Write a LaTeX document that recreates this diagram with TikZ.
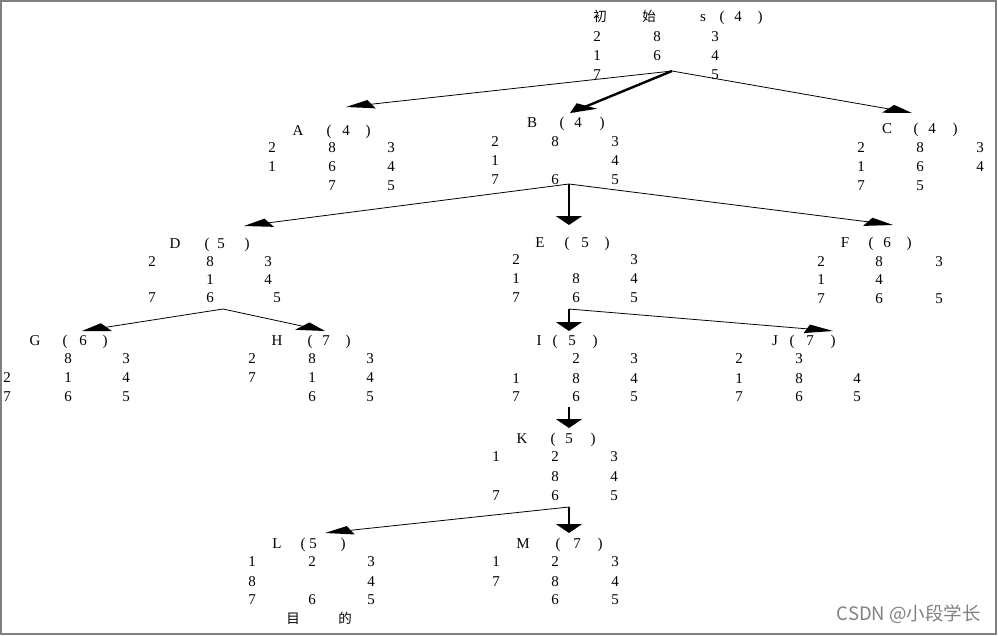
\documentclass[tikz,border=0pt]{standalone}
\usepackage{fontspec}
\setmainfont{Liberation Serif}
\newfontfamily\cjk{Noto Sans CJK SC}
\usetikzlibrary{calc}
\newcommand\puzzle[8]{%
  \foreach \v [count=\k from 0] in {#8}{%
    \ifnum\v=0\else
      \pgfmathtruncatemacro\rr{div(\k,3)}%
      \pgfmathtruncatemacro\cc{mod(\k,3)}%
      \pgfmathsetmacro\xx{{#2,#3,#4}[\cc]}%
      \pgfmathsetmacro\yy{{#5,#6,#7}[\rr]}%
      \node[lab] (#1-\k) at (\xx,\yy) {\v};
    \fi
  }%
}
\newcommand\ttl[8]{%
  \node[lab,anchor=base] (#1-n) at (#2,#3) {#4};
  \node[lab,anchor=base] (#1-l) at (#5,#3) {(};
  \node[lab,anchor=base] (#1-v) at (#6,#3) {#7};
  \node[lab,anchor=base] (#1-r) at (#8,#3) {)};
}
\newcommand\arr[3]{%
  \draw[#1] (#2) -- (#3);
  \path (#2); \pgfgetlastxy{\ax}{\ay}
  \path (#3); \pgfgetlastxy{\bx}{\by}
  \pgfmathsetmacro\ang{atan2(\by-\ay,(\bx-\ax)/3)}
  \fill[shift={(#3)}, xscale=3, rotate=\ang] (0,0) -- (-9,4.4) -- (-9,-4.4) -- cycle;
}
\begin{document}
\begin{tikzpicture}[x=1pt,y=-1pt,
  lab/.style={inner sep=0pt, font=\fontsize{15}{15}\selectfont},
  thinl/.style={line width=0.8pt, shorten >=5pt},
  thickl/.style={line width=2.4pt, shorten >=4pt},
  frame/.style={draw=gray, line width=2pt}]
\useasboundingbox (0,0) rectangle (998,635);
\draw[frame] (1,1) rectangle (996,633.5);

% root
\node[lab,anchor=base] (s-c1) at (600,21) {\cjk\fontsize{13.5}{13.5}\selectfont 初};
\node[lab,anchor=base] (s-c2) at (649,21) {\cjk\fontsize{13.5}{13.5}\selectfont 始};
\ttl{s}{703}{21}{s}{722}{738}{4}{760}
\puzzle{s}{597}{657}{715}{37}{56}{75}{2,8,3,1,6,4,7,0,5}

\ttl{A}{298}{135}{A}{329}{346}{4}{368}
\puzzle{A}{272}{332}{391}{148}{167}{186}{2,8,3,1,6,4,0,7,5}
\ttl{B}{532}{127}{B}{562}{578}{4}{602}
\puzzle{B}{495}{555}{615}{142}{161}{180}{2,8,3,1,0,4,7,6,5}
\ttl{C}{887}{133}{C}{916}{932}{4}{955}
\puzzle{C}{861}{920}{980}{148}{167}{186}{2,8,3,1,6,4,7,5,0}

\ttl{D}{175}{248}{D}{207}{221}{5}{247}
\puzzle{D}{152}{210}{268}{262}{280}{298}{2,8,3,0,1,4,7,6,0}
\node[lab] (D-8) at (277,298) {5};
\ttl{E}{540}{247}{E}{567}{585}{5}{607}
\puzzle{E}{516}{576}{634}{260}{279}{298}{2,0,3,1,8,4,7,6,5}
\ttl{F}{845}{247}{F}{871}{887}{6}{909}
\puzzle{F}{821}{879}{939}{262}{280}{299}{2,8,3,1,4,0,7,6,5}

\ttl{G}{35}{345}{G}{65}{83}{6}{105}
\puzzle{G}{7}{68}{126}{359}{378}{397}{0,8,3,2,1,4,7,6,5}
\ttl{H}{277}{345}{H}{310}{326}{7}{348}
\puzzle{H}{252}{312}{370}{359}{378}{397}{2,8,3,7,1,4,0,6,5}
\ttl{I}{539}{345}{I}{555}{572}{5}{595}
\puzzle{I}{516}{576}{634}{359}{379}{397}{0,2,3,1,8,4,7,6,5}
\ttl{J}{775}{345}{J}{792}{810}{7}{833}
\puzzle{J}{739}{799}{857}{359}{379}{397}{2,3,0,1,8,4,7,6,5}

\ttl{K}{522}{443}{K}{553}{569}{5}{593}
\puzzle{K}{496}{555}{614}{457}{477}{496}{1,2,3,0,8,4,7,6,5}

\ttl{L}{277}{548}{L}{303}{313}{5}{343}
\puzzle{L}{252}{312}{371}{562}{582}{600}{1,2,3,8,0,4,7,6,5}
\node[lab,anchor=base] (L-c1) at (293,623) {\cjk\fontsize{13.5}{13.5}\selectfont 目};
\node[lab,anchor=base] (L-c2) at (345,623) {\cjk\fontsize{13.5}{13.5}\selectfont 的};
\ttl{M}{523}{548}{M}{558}{577}{7}{600}
\puzzle{M}{496}{555}{615}{562}{582}{600}{1,2,3,7,8,4,0,6,5}

% connector points
\coordinate (sO) at (672,71);
\coordinate (tA) at (346,107);
\coordinate (tB) at (570,113);
\coordinate (tC) at (912,113);
\coordinate (bO) at (569,184);
\coordinate (tD) at (244,226);
\coordinate (tE) at (569,225);
\coordinate (tF) at (893,225);
\coordinate (dO) at (223,309);
\coordinate (tG) at (82,331);
\coordinate (tH) at (325,331);
\coordinate (eO) at (569,309);
\coordinate (tI) at (569,331);
\coordinate (tJ) at (833,331);
\coordinate (iO) at (569,407);
\coordinate (tK) at (569,428);
\coordinate (kO) at (569,507);
\coordinate (tL) at (325,533);
\coordinate (tM) at (569,533);

\arr{thinl}{sO}{tA}
\arr{thickl}{sO}{tB}
\arr{thinl}{sO}{tC}
\arr{thinl}{bO}{tD}
\arr{thickl}{bO}{tE}
\arr{thinl}{bO}{tF}
\arr{thinl}{dO}{tG}
\arr{thinl}{dO}{tH}
\arr{thickl}{eO}{tI}
\arr{thinl}{eO}{tJ}
\arr{thickl}{iO}{tK}
\arr{thinl}{kO}{tL}
\arr{thickl}{kO}{tM}

\node[inner sep=0pt, anchor=base east, text=gray, font=\cjk\fontsize{18.5}{18.5}\selectfont] (wm) at (981,620) {CSDN @小段学长};
\end{tikzpicture}
\end{document}
